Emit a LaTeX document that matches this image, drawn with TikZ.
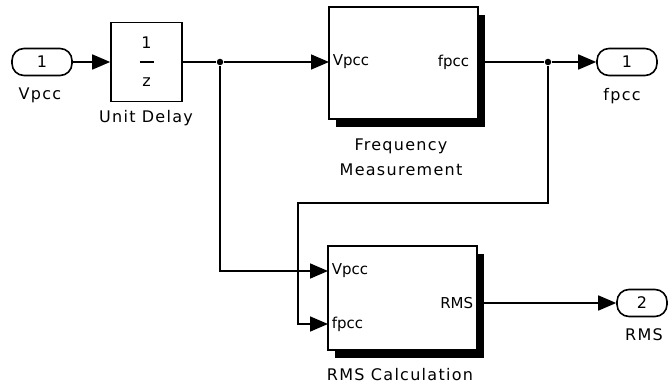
\documentclass[tikz,border=0pt]{standalone}
\usepackage{fontspec}
\setmainfont{DejaVu Sans}
\newfontfamily\lblfont[LetterSpace=8]{DejaVu Sans}
\usetikzlibrary{arrows.meta,shadows}

\begin{document}
\begin{tikzpicture}[x=1pt,y=-1pt,line width=1.6pt,
    sig/.style={-{Triangle[length=18pt,width=15pt]}},
    port/.style={draw,rounded corners=12pt,minimum width=60pt,minimum height=27pt,
      inner sep=0pt,font=\fontsize{16}{18}\selectfont},
    box/.style={draw,fill=white,inner sep=0pt},
    blk/.style={box,drop shadow={shadow xshift=7pt,shadow yshift=-8pt,fill=black,opacity=1}},
    plbl/.style={font=\fontsize{15}{17}\selectfont,inner sep=3pt},
    lbl/.style={font=\fontsize{16}{25}\lblfont,align=center,inner sep=0pt},
    dot/.style={circle,fill,inner sep=0pt,minimum size=6.5pt}]
    \useasboundingbox (0,0) rectangle (668,387);

    % Ports and blocks
    \node[port] (vin) at (42,62) {1};
    \node[box,minimum width=71pt,minimum height=79pt,align=center,
      font=\fontsize{16}{18}\selectfont] (delay) at (146.5,62)
      {1\\[1pt]\rule[5pt]{14pt}{1.4pt}\\[1pt]z};
    \node[blk,minimum width=149pt,minimum height=112pt] (freq) at (403.5,63) {};
    \node[blk,minimum width=149pt,minimum height=104pt] (rms) at (402.5,298) {};
    \node[port] (fout) at (627,62) {1};
    \node[port,minimum width=50pt] (rmsout) at (642,303) {2};

    % Port positions on the blocks
    \coordinate (fqin) at (329,62);
    \coordinate (fqout) at (478,62);
    \coordinate (rmsv) at (328,271);
    \coordinate (rmsf) at (328,324);
    \coordinate (rmso) at (477,303);
    \coordinate (fb) at (298,203);
    \node[plbl,anchor=west] (fqvl) at (fqin) {Vpcc};
    \node[plbl,anchor=east,xshift=-5pt] (fqfl) at (fqout) {fpcc};
    \node[plbl,anchor=west] (rmsvl) at (rmsv) {Vpcc};
    \node[plbl,anchor=west] (rmsfl) at (rmsf) {fpcc};
    \node[plbl,anchor=east] (rmsol) at (rmso) {RMS};

    % Branch points
    \node[dot] (j1) at (220,62) {};
    \node[dot] (j2) at (548,62) {};

    % Signals
    \draw[sig] (vin) -- (delay);
    \draw (delay) -- (j1);
    \draw[sig] (j1) -- (fqin);
    \draw[sig] (j1) |- (rmsv);
    \draw (fqout) -- (j2);
    \draw[sig] (j2) -- (fout);
    \draw[sig] (j2) |- (fb) |- (rmsf);
    \draw[sig] (rmso) -- (rmsout);

    % Names
    \node[lbl] (vinlbl) at (40,95) {Vpcc};
    \node[lbl] (delaylbl) at (146,118) {Unit Delay};
    \node[lbl] (freqlbl) at (401,157) {Frequency\\Measurement};
    \node[lbl] (rmslbl) at (400,375) {RMS Calculation};
    \node[lbl] (foutlbl) at (622,96) {fpcc};
    \node[lbl] (rmsoutlbl) at (644,335) {RMS};
\end{tikzpicture}
\end{document}
